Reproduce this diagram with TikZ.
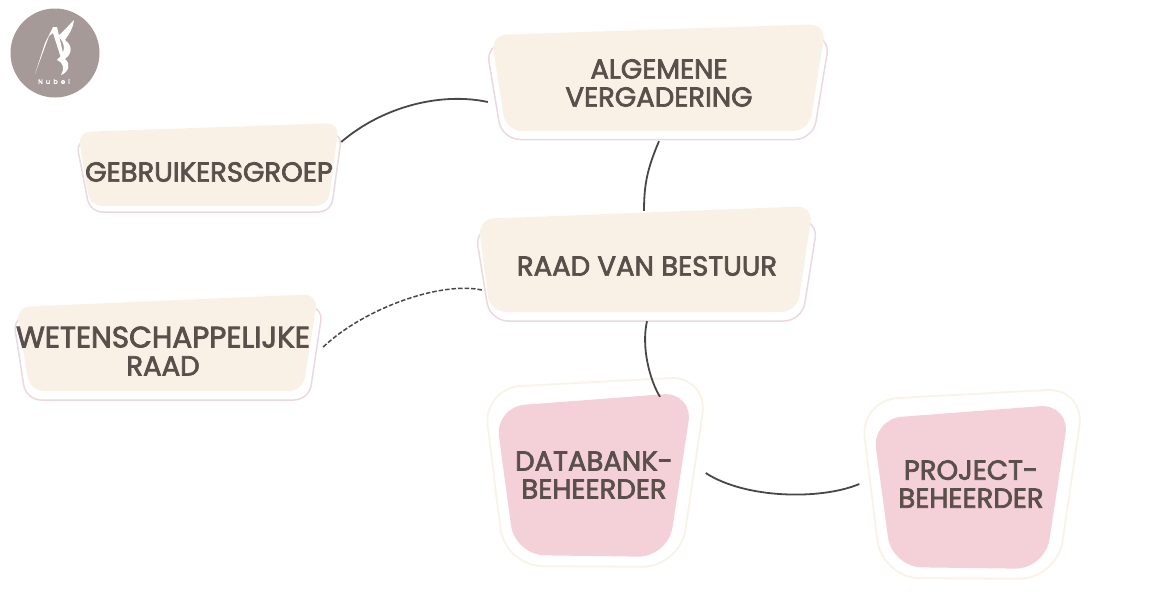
\documentclass[tikz,border=0pt]{standalone}
\usepackage{fontspec}
\setmainfont{Poppins}[FakeBold=2.6]
\definecolor{inkc}{HTML}{5A4F4B}
\definecolor{linec}{HTML}{4B4646}
\definecolor{creamf}{HTML}{F9F1E5}
\definecolor{pinkl}{HTML}{EBD8E0}
\definecolor{pinkf}{HTML}{F4D0D8}
\definecolor{creaml}{HTML}{F8F3E6}
\definecolor{logoc}{HTML}{A59A98}
\tikzset{
  outlinep/.style={draw=pinkl,line width=1.5pt,fill=white,rounded corners=18pt},
  fillc/.style={fill=creamf,rounded corners=16pt},
  outlinec/.style={draw=creaml,line width=1.8pt,fill=white,rounded corners=38pt},
  fillp/.style={fill=pinkf,rounded corners=30pt},
  label/.style={font=\fontsize{27.5}{28}\selectfont,text=inkc,align=center,inner sep=0pt},
  conn/.style={draw=linec,line width=1.8pt},
  dconn/.style={conn,dash pattern=on 4.5pt off 2pt,line width=1.5pt},
}
\begin{document}
\begin{tikzpicture}[x=1pt,y=-1pt]
\useasboundingbox (0,0) rectangle (1169,613);
% logo
\fill[logoc] (55,53) circle (44.5);
\fill[white] (35,74) -- (49,36) -- (53,33) -- (61,58) -- (63,53) -- (57,27) -- (53,27) -- (45,43) -- cycle;
\fill[white] (58,36) .. controls (63,32) and (68,26) .. (74,20) .. controls (73,29) and (69,34) .. (65,40) .. controls (72,45) and (73,53) .. (65,59) .. controls (71,64) and (69,72) .. (61,75) .. controls (65,68) and (63,62) .. (57,60) .. controls (66,52) and (66,44) .. (58,36) -- cycle;
\node[font=\fontsize{6.5}{7}\selectfont,text=white,inner sep=0pt] (logotext) at (54,81.5) {N\,\,\,u\,\,\,b\,\,\,e\,\,\,l};
% boxes
\path[outlinep] (486,44) -- (830,36) -- (813,139.5) -- (502,139.5) -- cycle;
\path[fillc] (491,35) -- (826,24) -- (809,131) -- (506,131) -- cycle;
\path[outlinep] (475,228) -- (818,220) -- (802,321) -- (490,321) -- cycle;
\path[fillc] (478,219) -- (813,206) -- (797,312) -- (490,312) -- cycle;
\path[outlinep,rounded corners=12pt] (76,140) -- (342,133) -- (331,212) -- (90,212) -- cycle;
\path[fillc,rounded corners=12pt] (78,132) -- (339,123) -- (328,206) -- (90,206) -- cycle;
\path[outlinep,rounded corners=15pt] (13,316) -- (323,306) -- (309,400) -- (26,400) -- cycle;
\path[fillc,rounded corners=14pt] (16,307) -- (318,294) -- (303,391) -- (30,391) -- cycle;
\path[outlinec] (483,388) -- (708,376) -- (680,567) -- (505,566) -- cycle;
\path[fillp] (495,407) -- (693,392) -- (668,557) -- (515,555) -- cycle;
\path[outlinec] (860,400) -- (1085,388) -- (1057,579) -- (882,578) -- cycle;
\path[fillp] (872,419) -- (1070,404) -- (1045,569) -- (892,567) -- cycle;
% labels
\node[label,minimum width=342pt,minimum height=116pt] (alg) at (659,83) {ALGEMENE\\VERGADERING};
\node[label,minimum width=340pt,minimum height=110pt] (raad) at (647,266) {RAAD VAN BESTUUR};
\node[label,minimum width=264pt,minimum height=80pt] (gebr) at (209,172) {GEBRUIKERSGROEP};
\node[label,minimum width=318pt,minimum height=98pt] (wet) at (163,351) {\fontsize{29.5}{28}\selectfont WETENSCHAPPELIJKE\\RAAD};
\node[label,minimum width=217pt,minimum height=190pt] (data) at (594,475) {DATABANK-\\BEHEERDER};
\node[label,minimum width=217pt,minimum height=188pt] (proj) at (971,484) {PROJECT-\\BEHEERDER};
% connectors
\draw[conn] ([shift={(0,-30)}]gebr.east) .. controls +(42,-36) and +(-46,-10) .. ([shift={(0,19)}]alg.west);
\draw[conn] (alg.south) .. controls +(-11,26) and +(0,-28) .. ([shift={(-3,0)}]raad.north);
\draw[dconn] ([shift={(1,-4)}]wet.east) .. controls +(40,-38) and +(-42,-9) .. ([shift={(5,24)}]raad.west);
\draw[conn] (raad.south) .. controls +(-6,26) and +(-10,-16) .. ([shift={(66,17)}]data.north);
\draw[conn] ([shift={(3,-2)}]data.east) .. controls +(40,26) and +(-38,16) .. ([shift={(-3,0)}]proj.west);
\end{tikzpicture}
\end{document}
